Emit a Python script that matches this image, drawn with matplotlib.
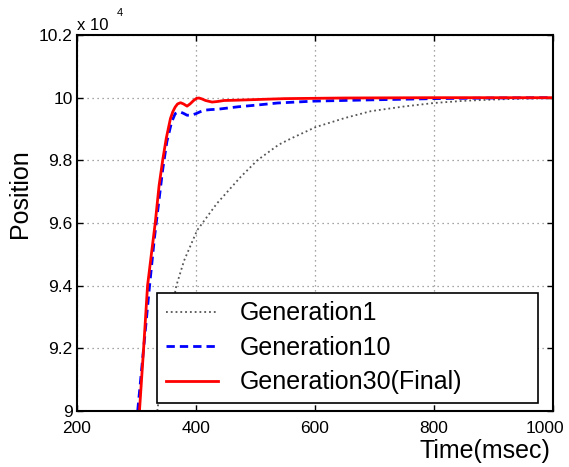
import matplotlib
matplotlib.use("Agg")
import matplotlib.pyplot as plt
import matplotlib.transforms as mtransforms

plt.rcParams['font.family'] = ['Liberation Sans', 'DejaVu Sans']

# values, position in units of 1e4
t_gen1 = [335, 345, 355, 367, 380, 402, 435, 475, 503, 539, 560, 601, 650, 694, 750, 800, 850, 900, 950, 1000]
p_gen1 = [9.00, 9.15, 9.28, 9.40, 9.48, 9.577, 9.662, 9.747, 9.80, 9.85, 9.87, 9.906, 9.935, 9.957, 9.972, 9.983, 9.99, 9.994, 9.997, 9.998]

t_gen10 = [302, 312, 322, 330, 337, 344, 351, 359, 365, 370, 374, 379, 385, 392, 400, 407, 414, 425, 436, 458, 471, 500, 537, 598, 694, 800, 900, 1000]
p_gen10 = [9.00, 9.20, 9.40, 9.55, 9.66, 9.77, 9.859, 9.922, 9.949, 9.954, 9.954, 9.950, 9.944, 9.944, 9.949, 9.955, 9.960, 9.962, 9.963, 9.968, 9.971, 9.976, 9.983, 9.989, 9.993, 9.997, 9.999, 10.0]

t_gen30 = [305, 312, 318.6, 325, 331.5, 338, 344, 350, 357, 361, 365, 369, 374, 379, 385, 390, 396, 401, 405, 410, 416, 427, 437, 447, 469, 500, 550, 650, 800, 1000]
p_gen30 = [9.00, 9.20, 9.40, 9.50, 9.60, 9.72, 9.80, 9.87, 9.933, 9.955, 9.970, 9.980, 9.984, 9.980, 9.973, 9.980, 9.991, 9.998, 9.999, 9.996, 9.991, 9.986, 9.988, 9.991, 9.992, 9.994, 9.997, 9.999, 10.0, 10.0]

x_ticks = [200, 400, 600, 800, 1000]
y_ticks = [9, 9.2, 9.4, 9.6, 9.8, 10, 10.2]
y_labels = ['9', '9.2', '9.4', '9.6', '9.8', '10', '10.2']

fig = plt.figure(figsize=(5.69, 4.67), dpi=100)
ax = fig.add_axes([0.1353, 0.12, 0.8366, 0.805])

ax.plot(t_gen1, p_gen1, ':', color='#555555', linewidth=1.3, label='Generation1')
ax.plot(t_gen10, p_gen10, '--', color='#0000ff', linewidth=2, dashes=(3, 1.8), label='Generation10')
ax.plot(t_gen30, p_gen30, '-', color='#ff0000', linewidth=2, label='Generation30(Final)')

ax.set_xlim(200, 1000)
ax.set_ylim(9, 10.2)
ax.set_xticks(x_ticks)
ax.set_yticks(y_ticks)
ax.set_yticklabels(y_labels)
ax.tick_params(direction='in', top=True, right=True, labelsize=12.5, length=4, width=1)
ax.tick_params(axis='x', pad=7)
ax.tick_params(axis='y', pad=3)
ax.grid(True, linestyle=(0, (1, 3)), color='#888888', linewidth=0.9)
for s in ax.spines.values():
    s.set_linewidth(1.5)

# last x label is pushed left so it stays inside the figure, like the original
last = ax.xaxis.get_major_ticks()[-1].label1
last.set_transform(last.get_transform() + mtransforms.ScaledTranslation(-0.08, 0, fig.dpi_scale_trans))

ax.set_ylabel('Position', fontsize=18)
ax.yaxis.set_label_coords(-0.095, 0.577)
ax.set_xlabel('Time(msec)', fontsize=18)
ax.xaxis.set_label_coords(0.995, -0.075)
ax.xaxis.label.set_horizontalalignment('right')

ax.text(0.0, 1.013, 'x 10', transform=ax.transAxes, fontsize=12, ha='left', va='baseline')
ax.text(0.084, 1.05, '4', transform=ax.transAxes, fontsize=8, ha='left', va='baseline')

leg = ax.legend(loc='lower left', bbox_to_anchor=(0.168, 0.021, 0.80, 0.298), mode='expand',
                borderaxespad=0, fontsize=18, fancybox=False, framealpha=1, edgecolor='black',
                handlelength=2.1, handletextpad=0.85, labelspacing=0.42, borderpad=0.35)
leg.get_frame().set_linewidth(1.2)

fig.savefig('out.png', dpi=100)
